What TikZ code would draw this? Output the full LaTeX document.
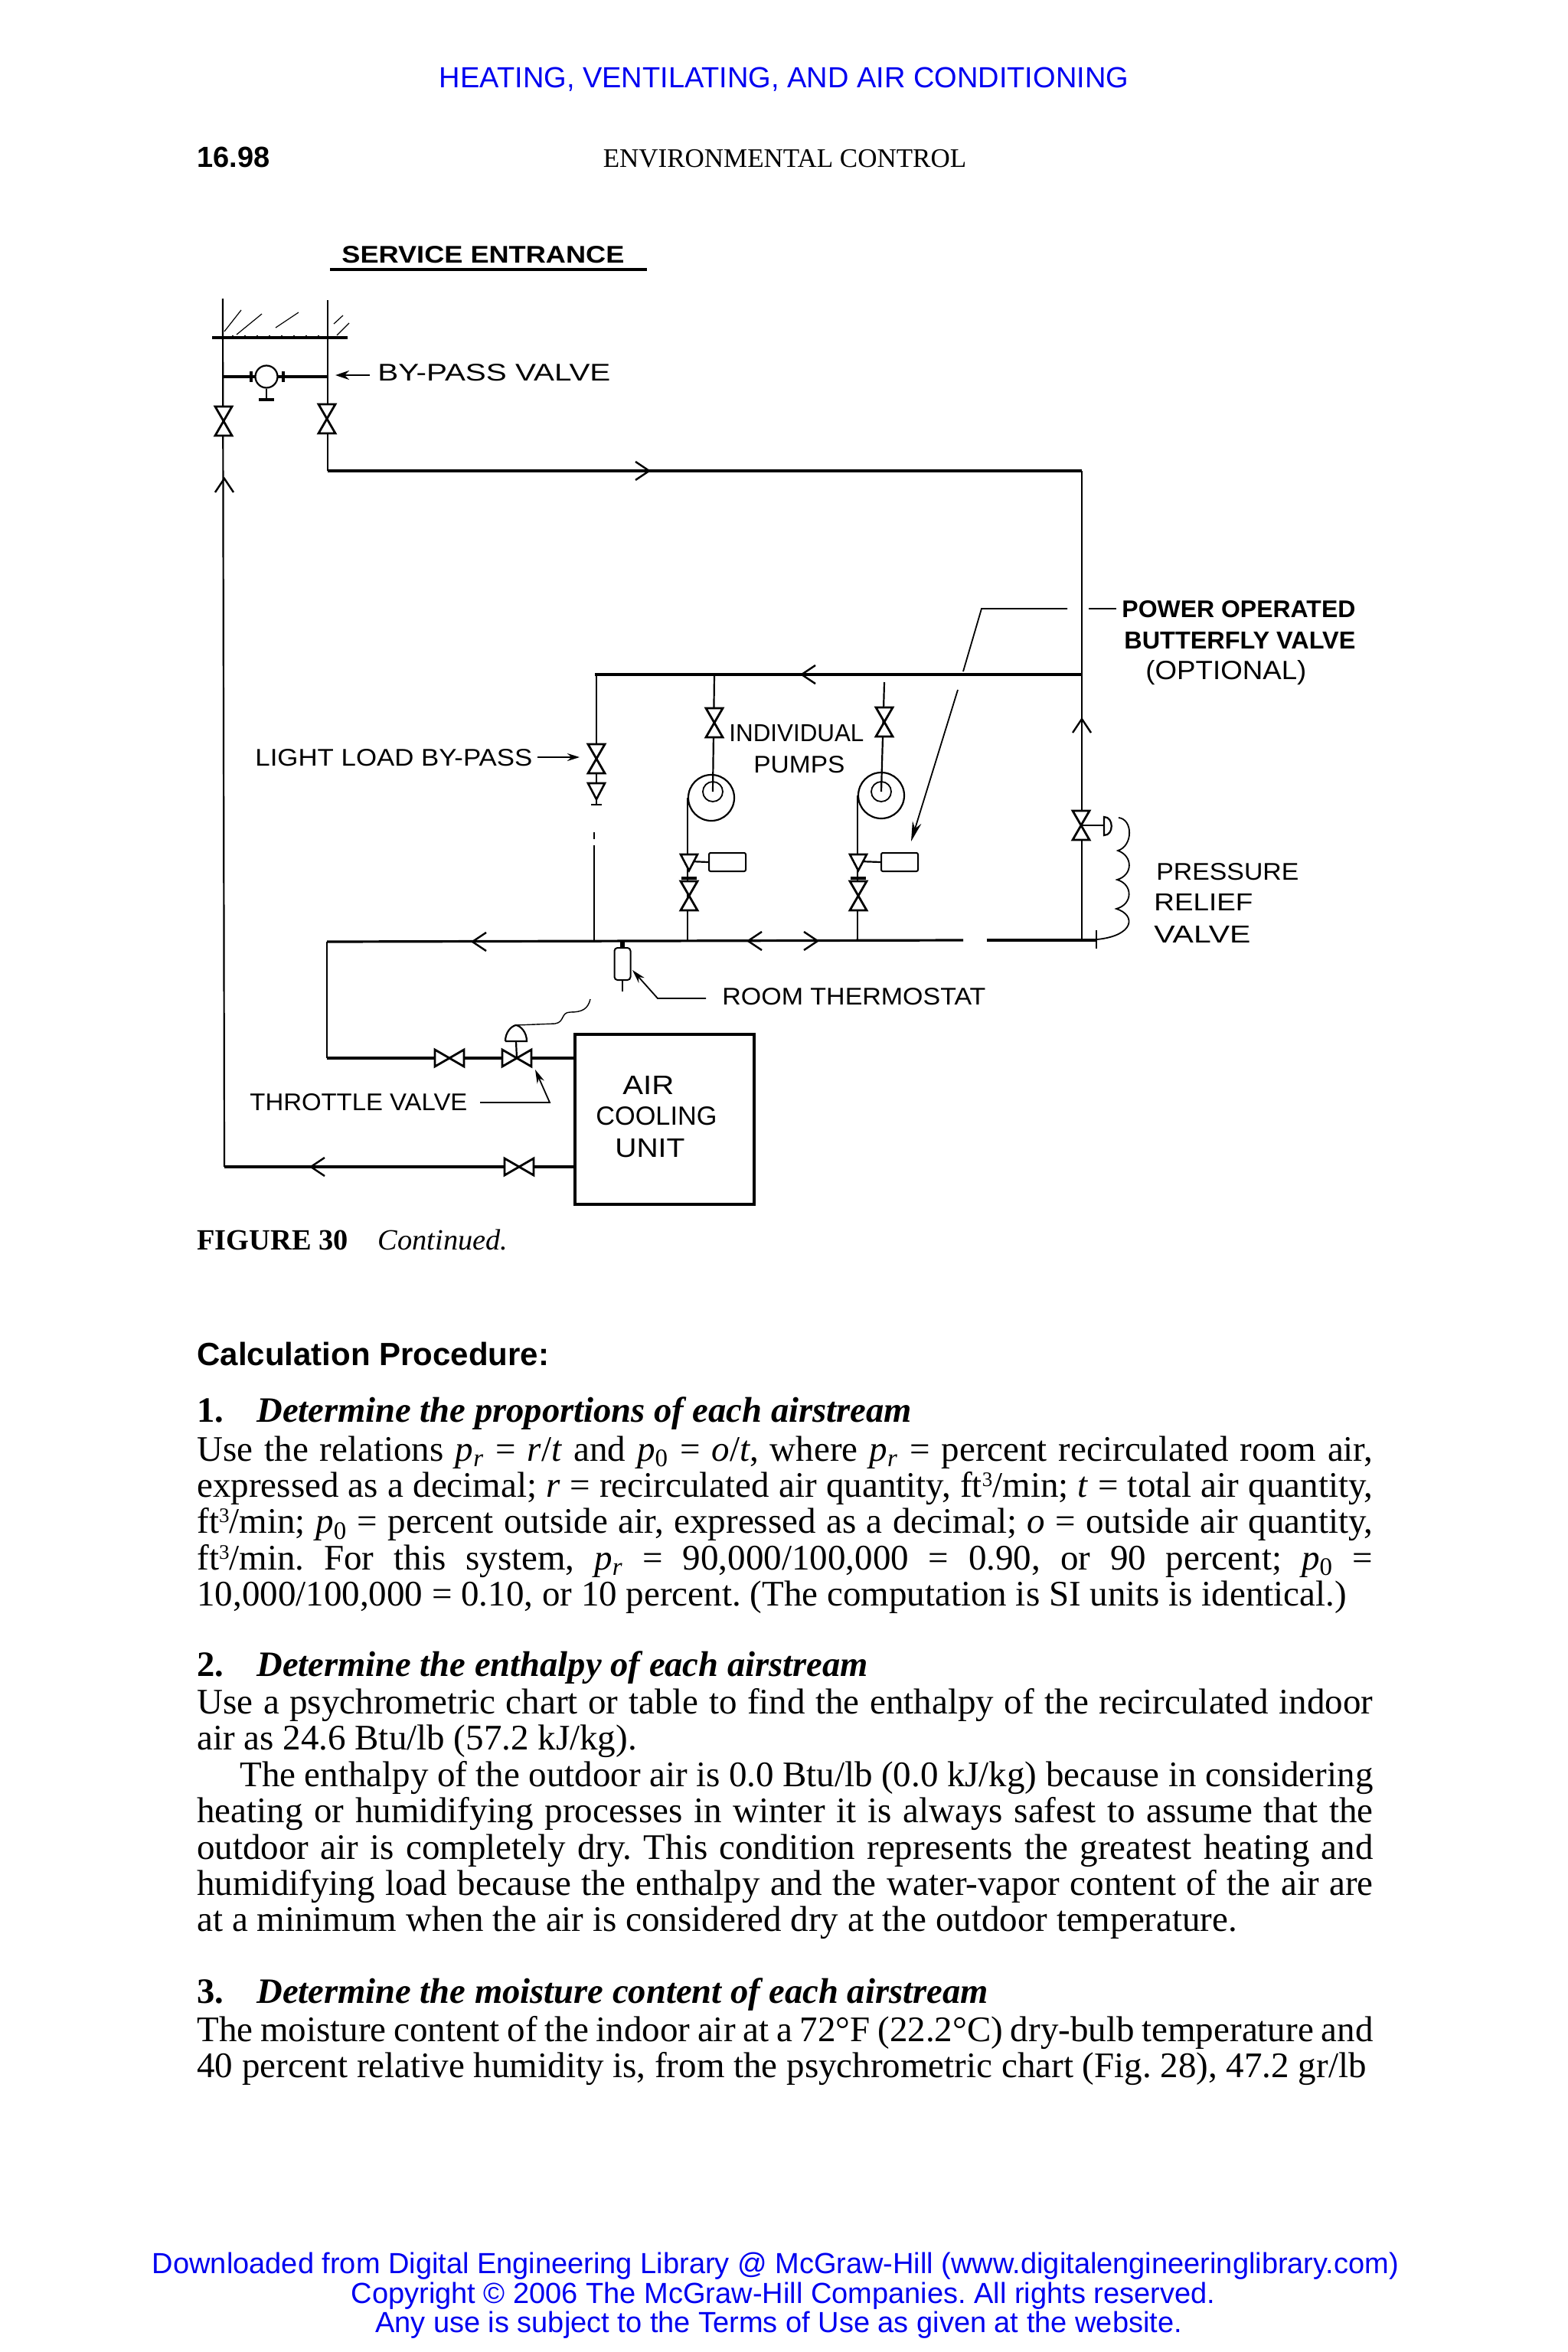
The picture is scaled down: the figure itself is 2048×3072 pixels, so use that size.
\documentclass[tikz,border=0pt]{standalone}
\usepackage{fontspec}
\usepackage{graphicx}
\usepackage{xcolor}
\usetikzlibrary{arrows.meta, positioning}
\setmainfont{Liberation Serif}
\setsansfont{Liberation Sans}
\definecolor{linkblue}{RGB}{0,0,240}
\newcommand{\handtext}[3][11]{\resizebox{#2pt}{#1pt}{\sffamily #3}}
\newcommand{\pr}{\textit{p}\smash{\textsubscript{\textit{r}}}}
\newcommand{\po}{\textit{p}\smash{\textsubscript{0}}}
\newcommand{\ftm}{ft\smash{\raisebox{0.3em}{\fontsize{13.5}{14}\selectfont 3}}/min}

\begin{document}
\begin{tikzpicture}[
        x=0.5pt, y=-0.5pt,
        pipe/.style={line width=1.6pt},
        thinpipe/.style={line width=1.1pt},
        leader/.style={line width=0.9pt},
        hand/.style={inner sep=0pt, anchor=west},
        bodytext/.style={inner sep=0pt, anchor=north west, text width=768pt, align=justify,
            font=\fontsize{23.5}{23.7}\selectfont},
        runhead/.style={inner sep=0pt, anchor=west, font=\fontsize{23.3}{24}\selectfont\bfseries},
        footline/.style={inner sep=0pt, text=linkblue, font=\fontsize{19}{20}\selectfont\sffamily},
        motorbox/.style={draw, rectangle, rounded corners=1pt, line width=1pt, minimum width=24pt, minimum height=12pt, inner sep=0pt},
        pumpbody/.style={draw, circle, line width=1.1pt, minimum size=30pt, inner sep=0pt},
        bowtie/.pic={\draw[line width=1.4pt, fill=white] (-19,-11) -- (19,11) -- (19,-11) -- (-19,11) -- cycle;},
        halfvalve/.pic={\draw[line width=1.3pt, fill=white] (-11,-21) -- (11,-21) -- (0,0) -- cycle;},
        barb/.pic={\draw[line width=1.2pt] (-18,-12) -- (0,0) -- (-18,12);}
    ]
        \useasboundingbox (0,0) rectangle (2048,3072);
        \frenchspacing

        \node[inner sep=0pt, text=linkblue, font=\fontsize{19}{20}\selectfont\sffamily] (runtitle) at (1024,104) {HEATING, VENTILATING, AND AIR CONDITIONING};
        \node[inner sep=0pt, anchor=west, font=\fontsize{19}{20}\selectfont\sffamily\bfseries] (pagenum) at (257,205) {16.98};
        \node[inner sep=0pt, font=\fontsize{17.5}{20}\selectfont] (chapter) at (1025,207) {ENVIRONMENTAL CONTROL};

        \node[hand] (servicetext) at (446,333) {\handtext{184.5}{\bfseries SERVICE ENTRANCE}};
        \coordinate (ruleL) at (431,352);
        \coordinate (ruleR) at (845,352);
        \draw[pipe] (ruleL) -- (ruleR);

        \coordinate (wallL) at (277,441);
        \coordinate (wallR) at (454,441);
        \coordinate (capA) at (291,390);
        \coordinate (capB) at (428,392);
        \coordinate (stackA) at (293,1524);
        \coordinate (stackB) at (428,615);
        \coordinate (supplyEnd) at (1413,615);
        \coordinate (reliefFoot) at (1413,1229);
        \coordinate (byL) at (291,492);
        \coordinate (byR) at (428,492);
        \draw[pipe] (wallL) -- (wallR);
        \draw[thinpipe] (capA) -- (stackA);
        \draw[pipe] (stackA) -- (750,1524);
        \draw[thinpipe] (capB) -- (stackB);
        \draw[pipe] (stackB) -- (supplyEnd);
        \draw[thinpipe] (supplyEnd) -- (reliefFoot);
        \draw[pipe] (byL) -- (byR);
        \foreach \hx/\hy/\hw/\hh in {293/433/22/28, 309/437/33/27, 360/428/30/20, 436/423/12/11, 440/438/16/16}
            \draw[line width=0.6pt] (\hx,\hy) -- ++(\hw,-\hh);
        \foreach \tx in {304,320,336,352,368,384,400,416}
            \draw[line width=0.7pt] (\tx,441) -- ++(0,-3);

        \node[pumpbody, minimum size=14.5pt, fill=white] (bypass) at (348,492) {};
        \coordinate (bypassBase) at (348,522);
        \draw[line width=1.3pt] (bypass.south) -- (bypassBase);
        \draw[pipe] (338,522) -- (358,522);
        \foreach \fx in {328,370}
            \draw[line width=1.6pt] (\fx,485) -- (\fx,499);

        \node[hand] (bypasstext) at (493,487) {\handtext{152}{BY-PASS VALVE}};
        \coordinate (bypassTip) at (438,490);
        \draw[line width=1.2pt, -{Stealth[length=9pt, width=6pt]}] (483,490) -- (bypassTip);

        \coordinate (mainTopL) at (777,881);
        \coordinate (mainTopR) at (1413,881);
        \coordinate (mainLowL) at (427,1230);
        \coordinate (mainLowA) at (1258,1228);
        \coordinate (mainLowB) at (1289,1228);
        \coordinate (mainLowR) at (1432,1228);
        \draw[pipe] (mainTopL) -- (mainTopR);
        \draw[pipe] (mainLowL) -- (mainLowA);
        \draw[pipe] (mainLowB) -- (mainLowR);
        \draw[thinpipe] (1432,1215) -- (1432,1239);

        \coordinate (lightTop) at (779,881);
        \coordinate (lightEnd) at (779,1051);
        \coordinate (lightLow) at (776,1104);
        \coordinate (lightFoot) at (776,1228);
        \draw[thinpipe] (lightTop) -- (lightEnd);
        \draw[thinpipe] (776,1087) -- (776,1096);
        \draw[thinpipe] (lightLow) -- (lightFoot);
        \draw[line width=1pt] (772,1051) -- (786,1051);

        \node[pumpbody] (pumpA) at (929,1042) {};
        \node[draw, circle, line width=0.9pt, minimum size=13pt, inner sep=0pt] (impA) at (931,1034) {};
        \node[pumpbody] (pumpB) at (1151,1039) {};
        \node[draw, circle, line width=0.9pt, minimum size=13pt, inner sep=0pt] (impB) at (1151,1034) {};
        \coordinate (footA) at (900,1228);
        \coordinate (footB) at (1121,1228);
        \coordinate (teeA) at (933,881);
        \coordinate (teeB) at (1155,891);
        \draw[thinpipe] (teeA) -- (impA.center);
        \draw[thinpipe] (teeB) -- (impB.center);
        \draw[thinpipe] (pumpA.west) -- (pumpA.west |- footA);
        \draw[thinpipe] (pumpB.west) -- (pumpB.west |- footB);

        \coordinate (driveAin) at (900,1125);
        \coordinate (driveBin) at (1121,1125);
        \node[motorbox] (driveA) at (950,1126) {};
        \node[motorbox] (driveB) at (1175,1126) {};
        \draw[thinpipe] (driveAin) -- (driveA.west);
        \draw[thinpipe] (driveBin) -- (driveB.west);
        \draw[pipe] (890,1147) -- (910,1147);
        \draw[pipe] (1111,1147) -- (1131,1147);

        \coordinate (reliefValve) at (1413,1078);
        \coordinate (reliefHandle) at (1442,1078);
        \draw[thinpipe] (reliefValve) -- (reliefHandle);
        \draw[thinpipe] (1442,1067) .. controls (1455,1067) and (1455,1091) .. (1442,1091) -- cycle;
        \draw[line width=0.9pt] (1461,1068) .. controls (1480,1070) and (1480,1105) .. (1460,1111)
            .. controls (1480,1118) and (1480,1143) .. (1459,1149)
            .. controls (1480,1155) and (1480,1181) .. (1458,1187)
            .. controls (1484,1195) and (1482,1222) .. (1433,1227);

        \coordinate (returnCorner) at (427,1382);
        \draw[thinpipe] (mainLowL) -- (returnCorner);
        \draw[pipe] (returnCorner) -- (751,1382);

        \node[draw, rounded corners=2pt, line width=1pt, minimum width=10.5pt, minimum height=21pt, inner sep=0pt] (thermo) at (813,1259) {};
        \coordinate (thermoTop) at (813,1230);
        \coordinate (thermoStem) at (813,1295);
        \draw[line width=3pt] (thermoTop) -- (thermo.north);
        \draw[thinpipe] (thermo.south) -- (thermoStem);

        \coordinate (throttle) at (675,1382);
        \coordinate (dome) at (674,1360);
        \draw[thinpipe] (throttle) -- (dome);
        \draw[thinpipe] (660,1360) -- (688,1360) .. controls (688,1348) and (680,1340) .. (674,1339)
            .. controls (668,1340) and (660,1348) .. (660,1360);
        \draw[line width=0.7pt] (674,1339) -- (725,1337) .. controls (738,1335) and (732,1322) .. (745,1322)
            .. controls (760,1322) and (768,1318) .. (771,1305);

        \node[draw, rectangle, pipe, minimum width=117pt, minimum height=111pt, inner sep=0pt] (unit) at (868,1462) {};
        \node[hand] (airtext) at (813,1417) {\handtext[12]{33.5}{AIR}};
        \node[hand] (cooltext) at (778,1458) {\handtext[12]{79}{COOLING}};
        \node[hand] (unittext) at (803,1500) {\handtext[12]{45.5}{UNIT}};

        \foreach \vx/\vy in {292/550, 427/547, 779/991, 933/944, 1155/943, 900/1170, 1121/1170, 1412/1078}
            \pic[rotate=90] at (\vx,\vy) {bowtie};
        \foreach \vx/\vy in {587/1382, 675/1382, 678/1524}
            \pic at (\vx,\vy) {bowtie};
        \foreach \vx/\vy in {779/1044, 900/1137, 1121/1137}
            \pic at (\vx,\vy) {halfvalve};

        \pic at (848,615) {barb};
        \pic[rotate=90] at (293,625) {barb};
        \pic[rotate=180] at (1047,881) {barb};
        \pic[rotate=90] at (1413,939) {barb};
        \pic[rotate=180] at (977,1229) {barb};
        \pic at (1068,1229) {barb};
        \pic[rotate=180] at (617,1230) {barb};
        \pic[rotate=180] at (406,1524) {barb};

        \node[hand] (powertext) at (1465,796) {\handtext{152.5}{\bfseries POWER OPERATED}};
        \node[hand] (flytext) at (1468,837) {\handtext{151}{\bfseries BUTTERFLY VALVE}};
        \node[hand] (optiontext) at (1496,879) {\handtext[12.5]{105}{(OPTIONAL)}};
        \coordinate (powerDash) at (1458,795);
        \coordinate (powerDashB) at (1422,795);
        \coordinate (leadA) at (1394,795);
        \coordinate (leadCorner) at (1282,795);
        \coordinate (leadB) at (1258,877);
        \coordinate (leadC) at (1251,901);
        \coordinate (leadTip) at (1190,1099);
        \draw[leader] (powerDash) -- (powerDashB);
        \draw[leader] (leadA) -- (leadCorner) -- (leadB);
        \draw[leader, -{Stealth[length=13pt, width=6pt]}] (leadC) -- (leadTip);

        \node[hand] (indivtext) at (952,958) {\handtext{88}{INDIVIDUAL}};
        \node[hand] (pumpstext) at (984,999) {\handtext{59.5}{PUMPS}};

        \node[hand] (lighttext) at (333,990) {\handtext{181}{LIGHT LOAD BY-PASS}};
        \coordinate (lightTip) at (757,989);
        \draw[line width=1.1pt, -{Stealth[length=8pt, width=5pt]}] (702,989) -- (lightTip);

        \node[hand] (pressuretext) at (1510,1139) {\handtext{93}{PRESSURE}};
        \node[hand] (relieftext) at (1507,1178) {\handtext{64.5}{RELIEF}};
        \node[hand] (valvetext) at (1507,1220) {\handtext{63}{VALVE}};

        \node[hand] (roomtext) at (943,1302) {\handtext{172}{ROOM THERMOSTAT}};
        \coordinate (roomTail) at (922,1304);
        \coordinate (roomBend) at (859,1304);
        \coordinate (roomTip) at (826,1267);
        \draw[leader, -{Stealth[length=9pt, width=5pt]}] (roomTail) -- (roomBend) -- (roomTip);

        \node[hand] (throttletext) at (326,1440) {\handtext{142}{THROTTLE VALVE}};
        \coordinate (throttleTail) at (627,1440);
        \coordinate (throttleBend) at (718,1440);
        \coordinate (throttleTip) at (699,1397);
        \draw[leader, -{Stealth[length=9pt, width=5pt]}] (throttleTail) -- (throttleBend) -- (throttleTip);

        \node[inner sep=0pt, anchor=west, font=\fontsize{19.2}{20}\selectfont] (figlabel) at (257,1619) {\textbf{FIGURE 30}\hspace{19.5pt}\textit{Continued.}};
        \node[inner sep=0pt, anchor=west, font=\fontsize{21}{24}\selectfont\sffamily\bfseries] (calchead) at (257,1768) {Calculation Procedure:};

        \node[runhead] (stepone) at (257,1846) {\makebox[39pt][l]{1.}\textit{Determine the proportions of each airstream}};
        \node[bodytext] (paraone) at (257,1875) {Use the relations \pr{} = \textit{r}/\textit{t} and \po{} = \textit{o}/\textit{t}, where \pr{} = percent recirculated room air,\linebreak
            expressed as a decimal; \textit{r} = recirculated air quantity, \ftm; \textit{t} = total air quantity,\linebreak
            \ftm; \po{} = percent outside air, expressed as a decimal; \textit{o} = outside air quantity,\linebreak
            \ftm. For this system, \pr{} = 90,000/100,000 = 0.90, or 90 percent; \po{} =\linebreak
            10,000/100,000 = 0.10, or 10 percent. (The computation is SI units is identical.)};

        \node[runhead] (steptwo) at (257,2178) {\makebox[39pt][l]{2.}\textit{Determine the enthalpy of each airstream}};
        \node[bodytext] (paratwo) at (257,2205) {Use a psychrometric chart or table to find the enthalpy of the recirculated indoor\linebreak
            air as 24.6 Btu/lb (57.2 kJ/kg).\hfill\null\linebreak
            \hspace*{28pt}The enthalpy of the outdoor air is 0.0 Btu/lb (0.0 kJ/kg) because in considering\linebreak
            heating or humidifying processes in winter it is always safest to assume that the\linebreak
            outdoor air is completely dry. This condition represents the greatest heating and\linebreak
            humidifying load because the enthalpy and the water-vapor content of the air are\linebreak
            at a minimum when the air is considered dry at the outdoor temperature.};

        \node[runhead] (stepthree) at (257,2605) {\makebox[39pt][l]{3.}\textit{Determine the moisture content of each airstream}};
        \node[bodytext] (parathree) at (257,2633) {The moisture content of the indoor air at a 72°F (22.2°C) dry-bulb temperature and\linebreak
            40 percent relative humidity is, from the psychrometric chart (Fig. 28), 47.2 gr/lb\hspace{0pt plus -1fil}};

        \node[footline] (footone) at (1013,2960) {Downloaded from Digital Engineering Library @ McGraw-Hill (www.digitalengineeringlibrary.com)};
        \node[footline] (foottwo) at (1023,2999) {Copyright © 2006 The McGraw-Hill Companies. All rights reserved.};
        \node[footline] (footthree) at (1017,3037) {Any use is subject to the Terms of Use as given at the website.};
    \end{tikzpicture}
\end{document}
